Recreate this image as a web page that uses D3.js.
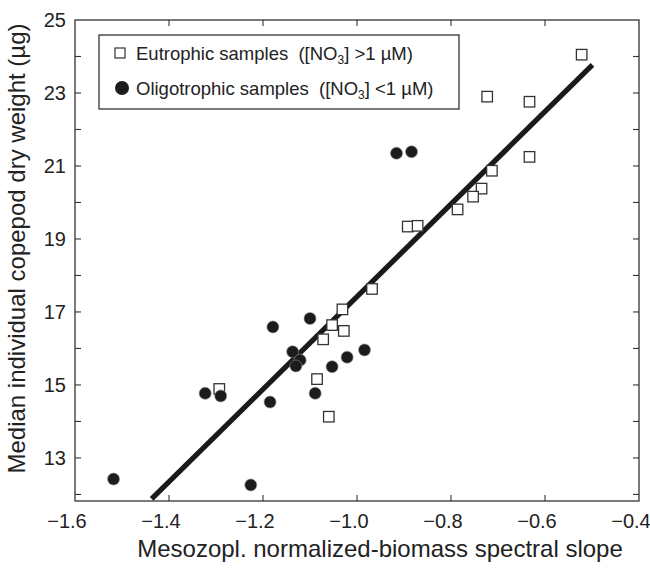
<!DOCTYPE html>
<html>
<head>
<meta charset="utf-8">
<script src="https://cdn.jsdelivr.net/npm/d3@7"></script>
<style>
  body { margin: 0; background: #fff; }
  text { font-family: "Liberation Sans", Arial, sans-serif; fill: #222; }
</style>
</head>
<body>
<div id="chart"></div>
<script>
// eutrophic samples (open squares)
const eutroX = [-0.522, -0.723, -0.633, -0.633, -0.713, -0.735, -0.753, -0.786, -0.892, -0.871,
                -0.968, -1.031, -1.053, -1.028, -1.072, -1.085, -1.060, -1.293];
const eutroY = [24.05, 22.90, 22.76, 21.25, 20.87, 20.38, 20.16, 19.81, 19.34, 19.36,
                17.63, 17.07, 16.64, 16.48, 16.25, 15.16, 14.13, 14.89];

// oligotrophic samples (filled circles)
const oligoX = [-0.916, -0.884, -1.179, -1.100, -1.137, -1.121, -1.130, -1.053, -1.021, -0.984,
                -1.089, -1.185, -1.323, -1.290, -1.226, -1.518];
const oligoY = [21.35, 21.39, 16.59, 16.82, 15.91, 15.68, 15.52, 15.50, 15.76, 15.96,
                14.77, 14.53, 14.77, 14.70, 12.26, 12.42];

// regression line
const fitSlope = 12.68;
const fitIntercept = 30.1;
const fitRange = [-1.437, -0.499];

const xTicks = [-1.6, -1.4, -1.2, -1.0, -0.8, -0.6, -0.4];
const yTicks = [13, 15, 17, 19, 21, 23, 25];
const yMinor = [12, 13, 14, 15, 16, 17, 18, 19, 20, 21, 22, 23, 24];

const width = 650, height = 568;
const margin = {top: 20, right: 11, bottom: 67, left: 75};

const svg = d3.select("#chart").append("svg")
    .attr("width", width)
    .attr("height", height);

const x = d3.scaleLinear().domain([-1.6, -0.4]).range([margin.left, width - margin.right]);
const y = d3.scaleLinear().domain([11.82, 25]).range([height - margin.bottom, margin.top]);

const frameColor = "#333";
const fmt = d => d3.format(".1f")(d).replace("-", "\u2212");

// ticks on all four sides, pointing in
const innerTicks = xTicks.slice(1, -1);
const tickG = svg.append("g").attr("stroke", frameColor).attr("stroke-width", 1.1);
innerTicks.forEach(t => {
  tickG.append("line").attr("x1", x(t)).attr("x2", x(t)).attr("y1", y.range()[0]).attr("y2", y.range()[0] - 6);
  tickG.append("line").attr("x1", x(t)).attr("x2", x(t)).attr("y1", y.range()[1]).attr("y2", y.range()[1] + 6);
});
yMinor.forEach(t => {
  tickG.append("line").attr("x1", x.range()[0]).attr("x2", x.range()[0] + 6).attr("y1", y(t)).attr("y2", y(t));
  tickG.append("line").attr("x1", x.range()[1]).attr("x2", x.range()[1] - 6).attr("y1", y(t)).attr("y2", y(t));
});

// frame
svg.append("rect")
  .attr("x", x.range()[0]).attr("y", y.range()[1])
  .attr("width", x.range()[1] - x.range()[0])
  .attr("height", y.range()[0] - y.range()[1])
  .attr("fill", "none").attr("stroke", frameColor).attr("stroke-width", 1.3);

// tick labels
svg.append("g").selectAll("text").data(xTicks).join("text")
  .attr("x", d => x(d) - 8)
  .attr("y", y.range()[0] + 27)
  .attr("text-anchor", "middle")
  .attr("font-size", 20)
  .text(fmt);

svg.append("g").selectAll("text").data(yTicks).join("text")
  .attr("x", x.range()[0] - 9)
  .attr("y", d => y(d) + 7)
  .attr("text-anchor", "end")
  .attr("font-size", 20)
  .text(d => d);

// axis titles
svg.append("text")
  .attr("x", 380)
  .attr("y", height - 11)
  .attr("text-anchor", "middle")
  .attr("font-size", 24)
  .text("Mesozopl. normalized-biomass spectral slope");

svg.append("text")
  .attr("transform", `translate(25, ${(y.range()[0] + y.range()[1]) / 2 - 12}) rotate(-90)`)
  .attr("text-anchor", "middle")
  .attr("font-size", 24)
  .text("Median individual copepod dry weight (\u00b5g)");

// fit line
svg.append("line")
  .attr("x1", x(fitRange[0])).attr("y1", y(fitIntercept + fitSlope * fitRange[0]))
  .attr("x2", x(fitRange[1])).attr("y2", y(fitIntercept + fitSlope * fitRange[1]))
  .attr("stroke", "#1a1a1a").attr("stroke-width", 5.2);

// squares
const sq = 10.5;
svg.append("g").selectAll("rect").data(d3.zip(eutroX, eutroY)).join("rect")
  .attr("x", d => x(d[0]) - sq / 2)
  .attr("y", d => y(d[1]) - sq / 2)
  .attr("width", sq).attr("height", sq)
  .attr("fill", "#fff").attr("stroke", "#333").attr("stroke-width", 1.3);

// circles
svg.append("g").selectAll("circle").data(d3.zip(oligoX, oligoY)).join("circle")
  .attr("cx", d => x(d[0]))
  .attr("cy", d => y(d[1]))
  .attr("r", 6)
  .attr("fill", "#1c1c1c").attr("stroke", "#888").attr("stroke-width", 0.6);

// legend
const lg = svg.append("g");
lg.append("rect").attr("x", 99).attr("y", 35).attr("width", 360).attr("height", 74)
  .attr("fill", "#fff").attr("stroke", frameColor).attr("stroke-width", 1.3);
lg.append("rect").attr("x", 115).attr("y", 48).attr("width", 10).attr("height", 10)
  .attr("fill", "#fff").attr("stroke", "#333").attr("stroke-width", 1.2);
lg.append("circle").attr("cx", 122).attr("cy", 88).attr("r", 7).attr("fill", "#1c1c1c");

function legendText(yPos, label, rel) {
  const t = lg.append("text").attr("x", 136).attr("y", yPos).attr("font-size", 18.5)
    .style("white-space", "pre");
  t.append("tspan").text(label + "  ([NO");
  t.append("tspan").attr("font-size", 12).attr("dy", 4).text("3");
  t.append("tspan").attr("dy", -4).text("] " + rel + "1 \u00b5M)");
}
legendText(60, "Eutrophic samples", ">");
legendText(95, "Oligotrophic samples", "<");
</script>
</body>
</html>
